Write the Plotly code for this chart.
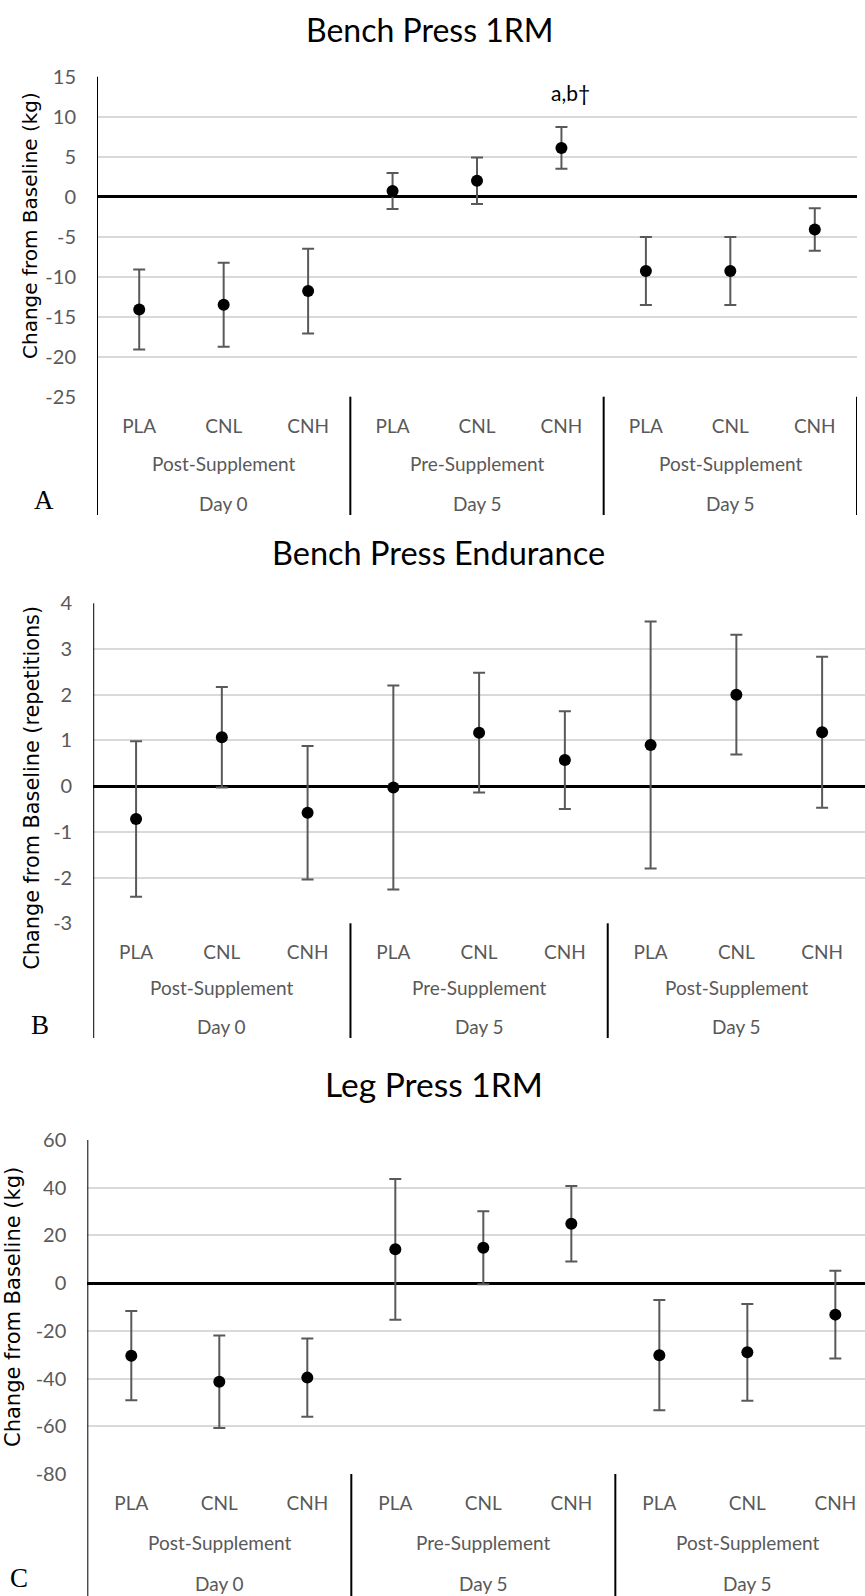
import plotly.graph_objects as go

W, H = 865, 1596

# ---------------- data ----------------
treatments = ["PLA", "CNL", "CNH", "PLA", "CNL", "CNH", "PLA", "CNL", "CNH"]
timing = ["Post-Supplement", "Pre-Supplement", "Post-Supplement"]
days = ["Day 0", "Day 5", "Day 5"]

bench_1rm_mean = [-14.1, -13.5, -11.8, 0.7, 2.0, 6.1, -9.3, -9.3, -4.1]
bench_1rm_err = [5.0, 5.25, 5.3, 2.25, 2.9, 2.6, 4.25, 4.25, 2.67]
bench_1rm_yticks = [-25, -20, -15, -10, -5, 0, 5, 10, 15]

bench_end_mean = [-0.72, 1.07, -0.58, -0.03, 1.17, 0.57, 0.9, 2.0, 1.18]
bench_end_err = [1.7, 1.1, 1.46, 2.23, 1.31, 1.07, 2.7, 1.31, 1.65]
bench_end_yticks = [-3, -2, -1, 0, 1, 2, 3, 4]

leg_1rm_mean = [-30.4, -41.3, -39.6, 14.2, 14.8, 24.9, -30.2, -29.0, -13.2]
leg_1rm_err = [18.7, 19.4, 16.4, 29.5, 15.3, 15.8, 23.1, 20.3, 18.4]
leg_1rm_yticks = [-80, -60, -40, -20, 0, 20, 40, 60]

titles = ["Bench Press 1RM", "Bench Press Endurance", "Leg Press 1RM"]
ytitles = ["Change from Baseline (kg)", "Change from Baseline (repetitions)",
           "Change from Baseline (kg)"]
panel_letters = ["A", "B", "C"]
annot_text = "a,b†"

# ---------------- layout geometry (pixels) ----------------
CAL = "Lato, Carlito, 'Open Sans', sans-serif"
YT = "'DejaVu Sans', Verdana, sans-serif"
GRAY = "#595959"

panels = [
    dict(mean=bench_1rm_mean, err=bench_1rm_err, yticks=bench_1rm_yticks,
         x0=97, x1=857, xr=[-0.5, 8.5],
         ytop=76.7, ybot=396.7, yr=[-25, 15], band_bot=515,
         row2=463, row3=503, title_y=29, title_x=430, yt_x=30, yt_y=226,
         yt_size=20, letter=(44, 500), right_border=True, title_size=32),
    dict(mean=bench_end_mean, err=bench_end_err, yticks=bench_end_yticks,
         x0=93.2, x1=865, xr=[-0.5, 8.5],
         ytop=603.3, ybot=923.3, yr=[-3, 4], band_bot=1038,
         row2=987, row3=1026, title_y=552, title_x=438, yt_x=31.7, yt_y=788,
         yt_size=20.8, letter=(40, 1025), right_border=False, title_size=32.5),
    dict(mean=leg_1rm_mean, err=leg_1rm_err, yticks=leg_1rm_yticks,
         x0=87.3, x1=865, xr=[-0.5, 8.337],
         ytop=1140, ybot=1474, yr=[-80, 60], band_bot=1596,
         row2=1542.7, row3=1583, title_y=1084, title_x=434, yt_x=13, yt_y=1307,
         yt_size=21, letter=(19, 1578), right_border=False, title_size=33.5),
]


def px(x):
    return x / W


def py(y):
    return 1 - y / H


fig = go.Figure()
annotations = []
shapes = []
layout_axes = {}

for i, p in enumerate(panels):
    s = "" if i == 0 else str(i + 1)
    xa, ya = "x" + s, "y" + s
    fig.add_trace(go.Scatter(
        x=list(range(len(treatments))), y=p["mean"], mode="markers",
        xaxis=xa, yaxis=ya, showlegend=False,
        marker=dict(color="black", size=12),
        error_y=dict(type="data", array=p["err"], color=GRAY, thickness=2, width=6),
    ))
    layout_axes["xaxis" + s] = dict(
        domain=[px(p["x0"]), min(1, px(p["x1"]))], range=p["xr"], anchor=ya,
        tickvals=list(range(len(treatments))), ticktext=treatments,
        tickfont=dict(family=CAL, size=19, color=GRAY),
        showgrid=False, zeroline=False, showline=False, ticks="",
        ticklabelstandoff=16, fixedrange=True, automargin=False,
    )
    layout_axes["yaxis" + s] = dict(
        domain=[py(p["ybot"]), py(p["ytop"])], range=p["yr"], anchor=xa,
        tickvals=p["yticks"], ticktext=[str(v) for v in p["yticks"]],
        gridcolor="#d9d9d9", gridwidth=2,
        zeroline=True, zerolinecolor="black", zerolinewidth=2.6,
        showline=False, ticks="", ticklabelstandoff=20,
        tickfont=dict(family=CAL, size=20, color=GRAY), fixedrange=True,
        automargin=False,
    )
    # vertical axis line extended into category band
    shapes.append(dict(type="line", xref=xa, yref="paper", x0=-0.5, x1=-0.5,
                       y0=py(p["band_bot"]), y1=py(p["ytop"]),
                       line=dict(color="black", width=2)))
    seps = [2.5, 5.5] + ([8.5] if p["right_border"] else [])
    for sx in seps:
        shapes.append(dict(type="line", xref=xa, yref="paper", x0=sx, x1=sx,
                           y0=py(p["band_bot"]), y1=py(p["ybot"]),
                           line=dict(color="black", width=2)))
    # group labels
    for g in range(3):
        annotations.append(dict(xref=xa, yref="paper", x=1 + 3 * g, y=py(p["row2"]),
                                text=timing[g], showarrow=False, yanchor="middle",
                                font=dict(family=CAL, size=19, color=GRAY)))
        annotations.append(dict(xref=xa, yref="paper", x=1 + 3 * g, y=py(p["row3"]),
                                text=days[g], showarrow=False, yanchor="middle",
                                font=dict(family=CAL, size=19, color=GRAY)))
    # title
    annotations.append(dict(xref="paper", yref="paper", x=px(p["title_x"]),
                            y=py(p["title_y"]), text=titles[i], showarrow=False,
                            xanchor="center", yanchor="middle",
                            font=dict(family=CAL, size=p["title_size"], color="black")))
    # y-axis title
    annotations.append(dict(xref="paper", yref="paper", x=px(p["yt_x"]),
                            y=py(p["yt_y"]), text=ytitles[i], showarrow=False,
                            textangle=-90, xanchor="center", yanchor="middle",
                            font=dict(family=YT, size=p["yt_size"], color="black")))
    # panel letter
    annotations.append(dict(xref="paper", yref="paper", x=px(p["letter"][0]),
                            y=py(p["letter"][1]), text=panel_letters[i], showarrow=False,
                            xanchor="center", yanchor="middle",
                            font=dict(family="'Liberation Serif', serif", size=27,
                                      color="black")))

# significance annotation above CNH (Pre-Supplement, Day 5) in panel A
annotations.append(dict(xref="x", yref="y", x=5, y=13.0, text=annot_text,
                        showarrow=False, xshift=9, yanchor="middle",
                        font=dict(family=CAL, size=21, color="black")))

fig.update_layout(
    width=W, height=H, autosize=False,
    margin=dict(l=0, r=0, t=0, b=0, pad=0),
    paper_bgcolor="white", plot_bgcolor="white",
    annotations=annotations, shapes=shapes, showlegend=False,
    **layout_axes,
)

# remove the default 8px page margin so the figure sits at the window's corner
fig.write_html("out.html",
               config={"displayModeBar": False},
               post_script="document.body.style.margin='0';"
                           "document.documentElement.style.overflow='hidden';")
